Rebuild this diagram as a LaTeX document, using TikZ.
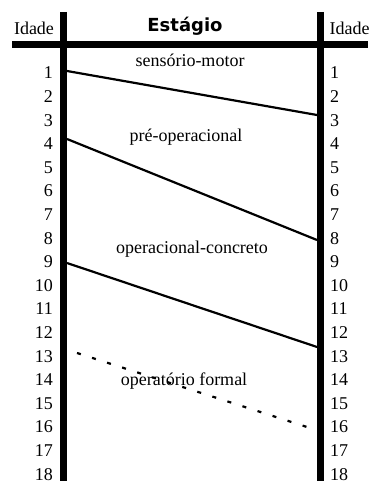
\documentclass[tikz,border=0pt]{standalone}
\usepackage{fontspec}
\setmainfont{Liberation Serif}
\newfontfamily\titlefont{DejaVu Sans}
\begin{document}
\begin{tikzpicture}[x=1pt, y=-1pt, font=\fontsize{18}{18}\selectfont,
    bar/.style={line width=7pt},
    fase/.style={line width=2.2pt},
    idade/.style={inner sep=0pt}]
        \useasboundingbox (0,0) rectangle (368,481);

        % Barras verticais e horizontal
        \draw[bar] (12,45) -- (368,45);
        \draw[bar] (63.5,12) -- (63.5,481);
        \draw[bar] (320.5,12) -- (320.5,481);

        % Cabeçalho
        \node[anchor=base] (idadeL) at (34,35) {Idade};
        \node[anchor=base west] (idadeR) at (326,35) {Idade};
        \node[anchor=base] (estagio) at (185,32) {\titlefont\bfseries Estágio};

        % Idades dos dois lados
        \foreach \n in {1,...,18} {
            \node[idade, anchor=east] (l\n) at (53,{73+23.6*(\n-1)}) {\n};
            \node[idade, anchor=west] (r\n) at (330,{73+23.6*(\n-1)}) {\n};
        }

        % Limites entre os estágios
        \coordinate (smA) at (67,71);
        \coordinate (smB) at (317,115);
        \coordinate (poA) at (67,139);
        \coordinate (poB) at (317,240);
        \coordinate (ocA) at (67,263);
        \coordinate (ocB) at (317,347);
        \coordinate (ofA) at (77,353);
        \coordinate (ofB) at (307,427);
        \draw[fase] (smA) -- (smB);
        \draw[fase] (poA) -- (poB);
        \draw[fase] (ocA) -- (ocB);
        \draw[fase, dash pattern=on 4pt off 11.8pt] (ofA) -- (ofB);

        % Nomes dos estágios
        \node[anchor=base] (sm) at (190,67) {sensório-motor};
        \node[anchor=base] (po) at (186,142) {pré-operacional};
        \node[anchor=base] (oc) at (192,253) {operacional-concreto};
        \node[anchor=base] (of) at (184,385) {operatório formal};
    \end{tikzpicture}
\end{document}
